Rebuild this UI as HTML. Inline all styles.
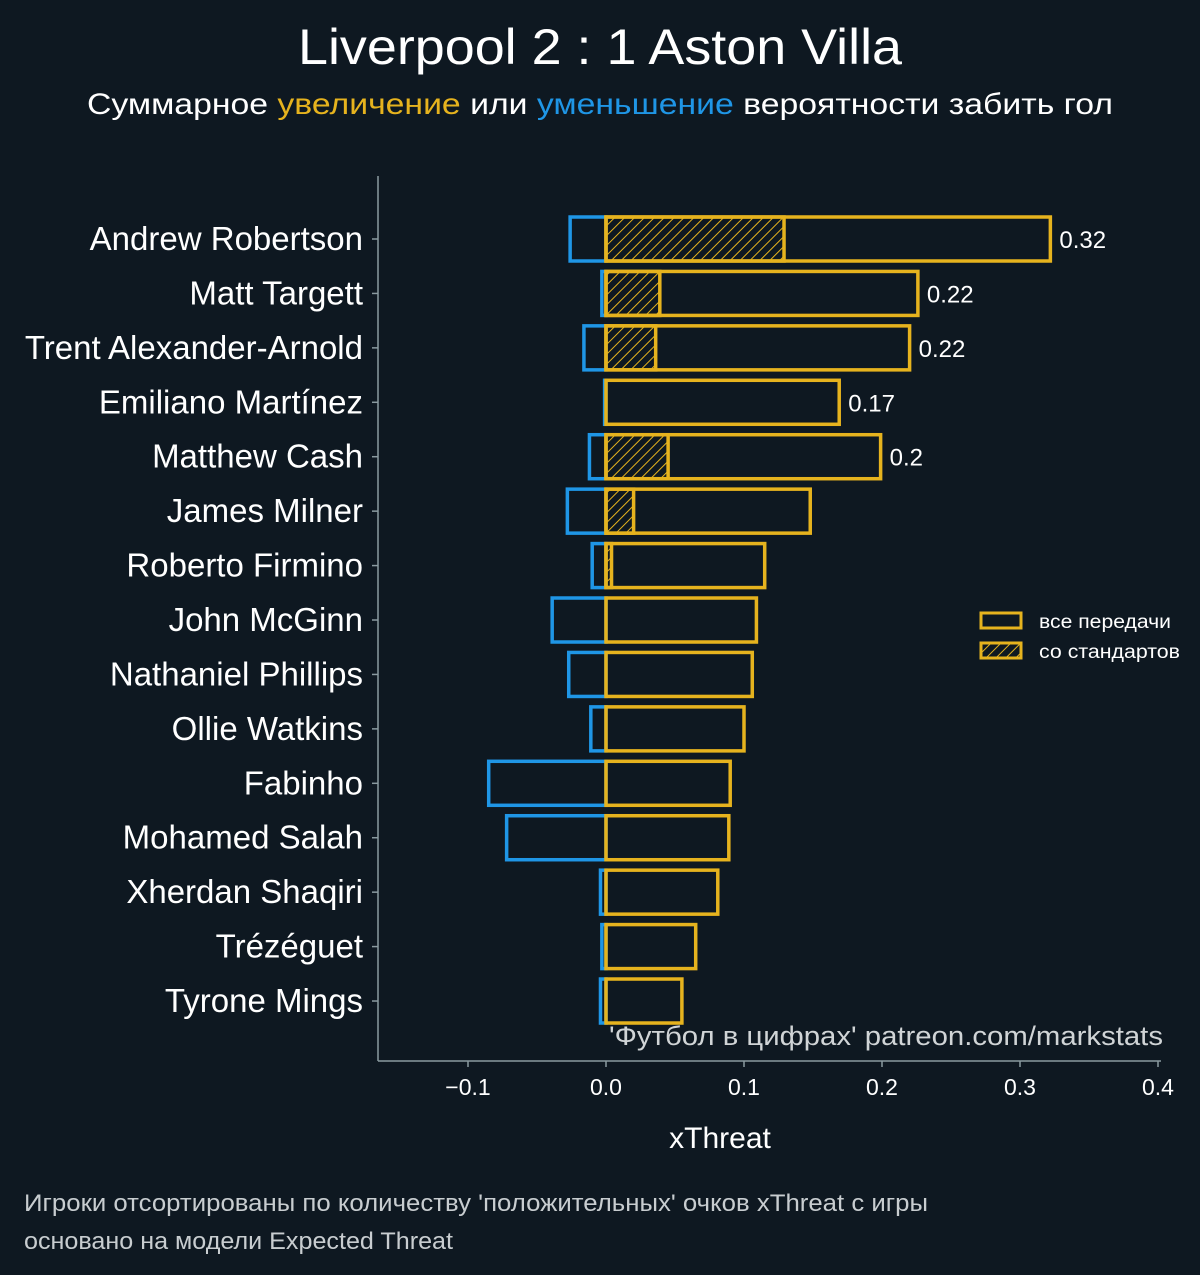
<!DOCTYPE html>
<html><head><meta charset="utf-8"><style>
body{margin:0;background:#0e1821;}
svg{display:block;font-family:"Liberation Sans","DejaVu Sans",sans-serif;}
</style></head><body>
<svg id="chart" width="1200" height="1275" viewBox="0 0 1200 1275" xmlns="http://www.w3.org/2000/svg">
<defs>
<pattern id="hatch" patternUnits="userSpaceOnUse" width="7" height="7" patternTransform="rotate(45)">
<line x1="0" y1="0" x2="0" y2="7" stroke="#e6b31e" stroke-width="2"/>
</pattern>
</defs>
<rect width="1200" height="1275" fill="#0e1821"/>
<text x="298" y="64" textLength="604" lengthAdjust="spacingAndGlyphs" font-size="50" fill="#ffffff">Liverpool 2 : 1 Aston Villa</text>
<text x="87" y="114" textLength="1026" lengthAdjust="spacingAndGlyphs" font-size="30" fill="#ffffff">Суммарное <tspan fill="#e6b31e">увеличение</tspan> или <tspan fill="#1f96e6">уменьшение</tspan> вероятности забить гол</text>
<g id="plot"></g>
<line x1="378" y1="176" x2="378" y2="1061" stroke="#8a9aa0" stroke-width="1.5"/>
<line x1="378" y1="1061" x2="1161" y2="1061" stroke="#8a9aa0" stroke-width="1.5"/>
<text x="720" y="1148" text-anchor="middle" font-size="30" fill="#ffffff">xThreat</text>
<text x="609" y="1045" textLength="554" lengthAdjust="spacingAndGlyphs" font-size="27" fill="#d0d4d6">'Футбол в цифрах' patreon.com/markstats</text>
<g>
<rect x="981" y="613" width="40" height="15" fill="none" stroke="#e6b31e" stroke-width="3"/>
<text x="1039" y="628" textLength="132" lengthAdjust="spacingAndGlyphs" font-size="19" fill="#ffffff">все передачи</text>
<rect x="981" y="643" width="40" height="15" fill="url(#hatch)" stroke="#e6b31e" stroke-width="3"/>
<text x="1039" y="658" textLength="141" lengthAdjust="spacingAndGlyphs" font-size="19" fill="#ffffff">со стандартов</text>
</g>
<text x="24" y="1211" textLength="904" lengthAdjust="spacingAndGlyphs" font-size="24" fill="#c8cdd0">Игроки отсортированы по количеству 'положительных' очков xThreat с игры</text>
<text x="24" y="1249" textLength="429" lengthAdjust="spacingAndGlyphs" font-size="24" fill="#c8cdd0">основано на модели Expected Threat</text>
</svg>
<script>
const players=["Andrew Robertson","Matt Targett","Trent Alexander-Arnold","Emiliano Martínez","Matthew Cash","James Milner","Roberto Firmino","John McGinn","Nathaniel Phillips","Ollie Watkins","Fabinho","Mohamed Salah","Xherdan Shaqiri","Trézéguet","Tyrone Mings"];
const positive=[0.322,0.226,0.220,0.169,0.199,0.148,0.115,0.109,0.106,0.100,0.090,0.089,0.081,0.065,0.055];
const setPiece=[0.129,0.039,0.036,0,0.045,0.020,0.004,0,0,0,0,0,0,0,0];
const negative=[-0.026,-0.003,-0.016,-0.001,-0.012,-0.028,-0.010,-0.039,-0.027,-0.011,-0.085,-0.072,-0.004,-0.003,-0.004];
const valueLabels=["0.32","0.22","0.22","0.17","0.2","","","","","","","","","",""];
const xTicks=[-0.1,0.0,0.1,0.2,0.3,0.4];
const xTickLabels=["−0.1","0.0","0.1","0.2","0.3","0.4"];

const NS="http://www.w3.org/2000/svg";
const g=document.getElementById('plot');
const xS=v=>606+v*1380;
const yS=i=>239+i*54.43;
const bh=44;
function mk(tag,attrs){const e=document.createElementNS(NS,tag);for(const k in attrs)e.setAttribute(k,attrs[k]);g.appendChild(e);return e;}
xTicks.forEach((t,i)=>{
  const l=mk('line',{x1:xS(t),x2:xS(t),y1:1061,y2:1067,stroke:'#8a9aa0','stroke-width':1.5});
  
  
  const tx=mk('text',{x:xS(t),y:1095,'text-anchor':'middle','font-size':23,fill:'#ffffff'});
  tx.textContent=xTickLabels[i];
  
  
});
players.forEach((p,i)=>{
  const y=yS(i);
  const tk=mk('line',{x1:372,x2:378,y1:y,y2:y,stroke:'#8a9aa0','stroke-width':1.5});
  
  
  const lb=mk('text',{x:363,y:y+11,'text-anchor':'end','font-size':33,fill:'#ffffff'});
  lb.textContent=p;
  
  
  const n=mk('rect',{x:xS(negative[i]),y:y-bh/2,width:xS(0)-xS(negative[i]),height:bh,fill:'none',stroke:'#1f96e6','stroke-width':3.5});
  
  
  if(setPiece[i]>0){
    const s=mk('rect',{x:xS(0),y:y-bh/2,width:xS(setPiece[i])-xS(0),height:bh,fill:'url(#hatch)',stroke:'#e6b31e','stroke-width':3.5});
    
    
  }
  const b=mk('rect',{x:xS(0),y:y-bh/2,width:xS(positive[i])-xS(0),height:bh,fill:'none',stroke:'#e6b31e','stroke-width':3.5});
  
  
  if(valueLabels[i]){
    const v=mk('text',{x:xS(positive[i])+9,y:y+9,'font-size':24,fill:'#ffffff'});
    v.textContent=valueLabels[i];
    
    
  }
});
</script>
</body></html>
